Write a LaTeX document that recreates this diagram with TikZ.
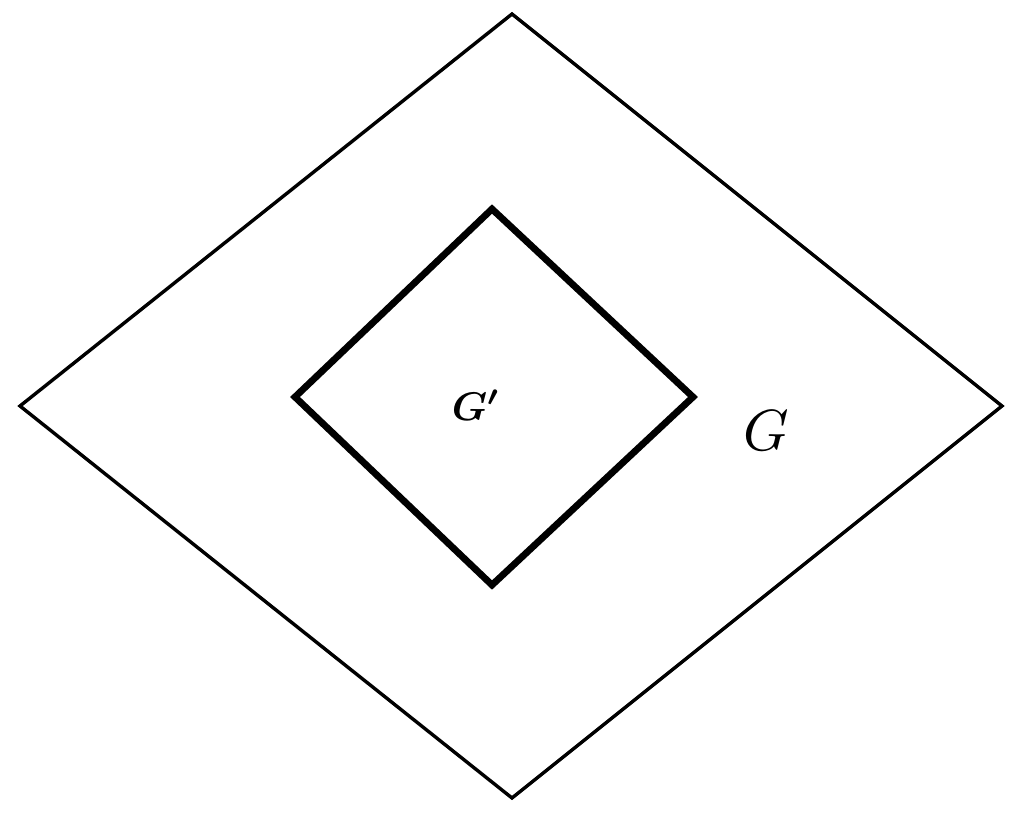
\documentclass[tikz,border=0pt]{standalone}
\usepackage{bm}
\tikzset{
  outerline/.style={line width=3.4pt, line join=miter},
  innerline/.style={line width=6.8pt, line join=miter},
  lbl/.style={inner sep=0pt, anchor=center}
}
\begin{document}
\begin{tikzpicture}[x=1pt,y=-1pt]
\useasboundingbox (0,0) rectangle (1024,819);
\coordinate (ot) at (512,14);
\coordinate (ol) at (20,406);
\coordinate (or) at (1002,406);
\coordinate (ob) at (512,798);
\coordinate (it) at (492,209);
\coordinate (il) at (295,397);
\coordinate (ir) at (693,397);
\coordinate (ib) at (492,585);
\draw[outerline] (ot) -- (or) -- (ob) -- (ol) -- cycle;
\draw[innerline] (it) -- (ir) -- (ib) -- (il) -- cycle;
\node[lbl] (gp) at (476,405) {\scalebox{4}{$\bm{G'}$}};
\node[lbl] (g) at (766,431) {\scalebox{5.8}{$G$}};
\end{tikzpicture}
\end{document}
